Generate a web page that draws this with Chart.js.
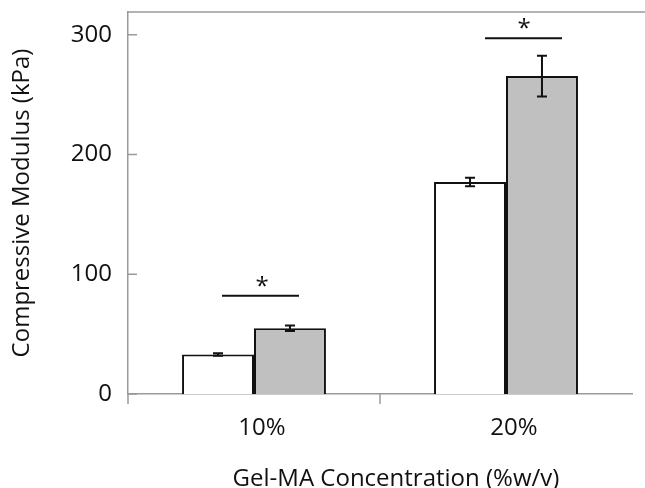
<!DOCTYPE html>
<html>
<head>
<meta charset="utf-8">
<script src="https://cdn.jsdelivr.net/npm/chart.js@4.4.0/dist/chart.umd.min.js"></script>
<style>
    html, body { margin: 0; padding: 0; background: #fff; }
    #wrap { width: 645px; height: 488px; }
</style>
</head>
<body>
<div id="wrap"><canvas id="modulusChart" width="645" height="488"></canvas></div>
<script>
var categories = ['10%', '20%'];
var controlValues = [33, 177];
var controlErrors = [1, 3.5];
var treatedValues = [55, 265.5];
var treatedErrors = [2.3, 17];
var sigLevels = [82, 297];
var yTicks = [0, 100, 200, 300];
var xTitle = 'Gel-MA Concentration (%w/v)';

var axisColor = '#9a9a9a';
var fontFamily = "'Open Sans', 'Noto Sans', sans-serif";

// error bars drawn on top of each bar
var errorBarPlugin = {
    id: 'errorBars',
    afterDatasetsDraw: function (chart) {
        let ctx = chart.ctx;
        let yScale = chart.scales.y;
        ctx.save();
        ctx.strokeStyle = '#111';
        ctx.lineWidth = 2;
        chart.data.datasets.forEach(function (ds, i) {
            let meta = chart.getDatasetMeta(i);
            meta.data.forEach(function (bar, j) {
                let v = ds.data[j];
                let e = ds.errors[j];
                let yTop = yScale.getPixelForValue(v + e);
                let yBot = yScale.getPixelForValue(v - e);
                let cap = 5;
                ctx.beginPath();
                ctx.moveTo(bar.x, yTop);
                ctx.lineTo(bar.x, yBot);
                ctx.moveTo(bar.x - cap, yTop);
                ctx.lineTo(bar.x + cap, yTop);
                ctx.moveTo(bar.x - cap, yBot);
                ctx.lineTo(bar.x + cap, yBot);
                ctx.stroke();
            });
        });
        ctx.restore();
    }
};

// frame, inward y ticks, category separator, significance markers, x title
var decorPlugin = {
    id: 'decor',
    afterDraw: function (chart) {
        let ctx = chart.ctx;
        let area = chart.chartArea;
        let xScale = chart.scales.x;
        let yScale = chart.scales.y;
        ctx.save();
        ctx.strokeStyle = axisColor;
        ctx.lineWidth = 1.5;
        ctx.beginPath();
        ctx.moveTo(area.left, area.top);
        ctx.lineTo(chart.width, area.top);
        for (var i = 0; i < yTicks.length; i++) {
            let y = yScale.getPixelForValue(yTicks[i]);
            ctx.moveTo(area.left, y);
            ctx.lineTo(area.left + 9, y);
        }
        let mid = (xScale.getPixelForValue(0) + xScale.getPixelForValue(1)) / 2;
        ctx.moveTo(mid, area.bottom);
        ctx.lineTo(mid, area.bottom + 10);
        ctx.moveTo(area.left, area.bottom);
        ctx.lineTo(area.left, area.bottom + 10);
        ctx.stroke();

        let spans = [[-32, 45, 8], [-21, 56, 18]];
        ctx.strokeStyle = '#111';
        ctx.fillStyle = '#111';
        ctx.lineWidth = 2;
        ctx.font = '24px ' + fontFamily;
        ctx.textAlign = 'center';
        ctx.textBaseline = 'middle';
        for (var k = 0; k < sigLevels.length; k++) {
            let cx = xScale.getPixelForValue(k);
            let y = yScale.getPixelForValue(sigLevels[k]);
            ctx.beginPath();
            ctx.moveTo(cx + spans[k][0], y);
            ctx.lineTo(cx + spans[k][1], y);
            ctx.stroke();
            ctx.fillText('*', cx + spans[k][2], y - 9);
        }

        ctx.fillText(xTitle, (area.left + area.right) / 2 + 16, 479.5);
        ctx.restore();
    }
};

var ctx = document.getElementById('modulusChart').getContext('2d');
var modulusChart = new Chart(ctx, {
    type: 'bar',
    data: {
        labels: categories,
        datasets: [{
            data: controlValues,
            errors: controlErrors,
            backgroundColor: '#ffffff',
            borderColor: '#111',
            borderWidth: 2,
            barPercentage: 1,
            categoryPercentage: 0.571
        }, {
            data: treatedValues,
            errors: treatedErrors,
            backgroundColor: '#c0c0c0',
            borderColor: '#111',
            borderWidth: 2,
            barPercentage: 1,
            categoryPercentage: 0.571
        }]
    },
    options: {
        responsive: false,
        animation: false,
        layout: {
            padding: { top: 12, right: 13, left: 0, bottom: 0 }
        },
        plugins: {
            legend: { display: false },
            tooltip: { enabled: false }
        },
        scales: {
            x: {
                grid: { display: false, drawTicks: false },
                border: { color: axisColor, width: 1.5 },
                ticks: {
                    color: '#111',
                    padding: 20,
                    labelOffset: 8,
                    font: { family: fontFamily, size: 24 }
                },
                afterFit: function (scale) {
                    scale.height = 94;
                    scale.paddingLeft = 0;
                    scale.paddingRight = 0;
                }
            },
            y: {
                min: 0,
                max: 319,
                afterBuildTicks: function (scale) {
                    scale.ticks = yTicks.map(function (v) { return { value: v }; });
                },
                grid: { display: false, drawTicks: false },
                border: { color: axisColor, width: 1.5 },
                ticks: {
                    color: '#111',
                    padding: 16,
                    font: { family: fontFamily, size: 24 }
                },
                title: {
                    display: true,
                    text: 'Compressive Modulus (kPa)',
                    color: '#111',
                    padding: { top: 8, bottom: 0 },
                    font: { family: fontFamily, size: 24 }
                },
                afterFit: function (scale) {
                    scale.width = 128;
                    scale.paddingTop = 0;
                    scale.paddingBottom = 0;
                }
            }
        }
    },
    plugins: [errorBarPlugin, decorPlugin]
});
</script>
</body>
</html>
